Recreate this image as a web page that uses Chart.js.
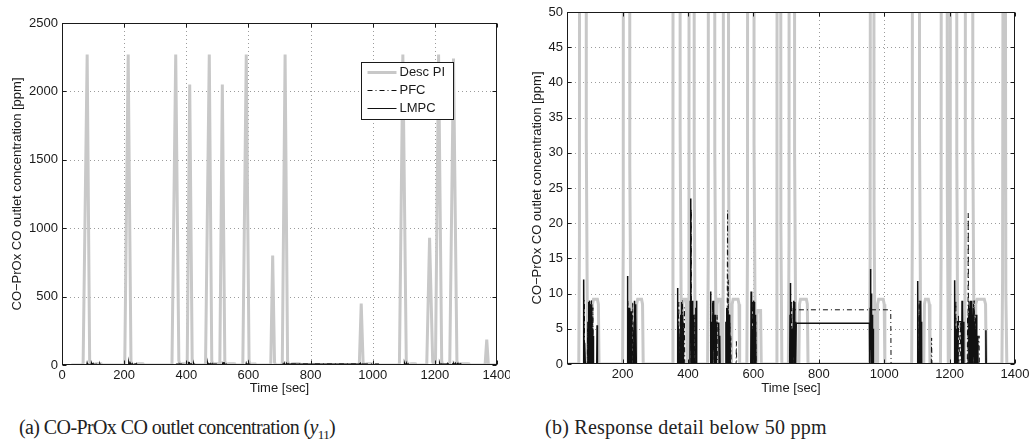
<!DOCTYPE html>
<html>
<head>
<meta charset="utf-8">
<script src="https://cdn.jsdelivr.net/npm/chart.js@4"></script>
<style>
  body { margin: 0; background: #fff; width: 1034px; height: 447px; position: relative; overflow: hidden; }
  #c1 { position: absolute; left: 0; top: 0; }
  #c2 { position: absolute; left: 510px; top: 0; }
  .cap { position: absolute; top: 416px; font-family: "Liberation Serif", serif; font-size: 20px; color: #222; white-space: nowrap; }
  .cap sub { font-size: 13px; }
</style>
</head>
<body>
<canvas id="c1" width="510" height="400"></canvas>
<canvas id="c2" width="524" height="400"></canvas>
<div class="cap" style="left:19px;letter-spacing:-0.6px">(a) CO-PrOx CO outlet concentration (<i>y</i><sub>11</sub>)</div>
<div class="cap" style="left:545px;letter-spacing:0.25px">(b) Response detail below 50 ppm</div>
<script>
// data: [time sec, CO ppm]
const descPI = [
  [30,0],[66,0],[68,17],[81,2270],[89,32],[93,0],[106,0],[108,8.5],[111,9.2],[123,9.2],[126,8.5],[128,0],
  [200,0],[202,17],[213,2270],[222,28],[226,0],[241,0],[243,8.5],[246,9.2],[258,9.2],[261,8.5],[263,0],
  [352,0],[354,18],[366,2270],[376,33],[380,0],[382,0],[384,8.5],[387,9.2],[395,9.2],[398,0],
  [401,0],[403,15],[411,2050],[419,30],[422,0],
  [460,0],[462,16],[474,2270],[482,30],[486,0],[489,8.5],[492,9.2],[500,9.2],[503,0],
  [506,0],[508,15],[516,2050],[524,30],[527,0],[533,0],[535,8.5],[538,9.2],[553,9.2],[556,8.5],[558,0],
  [580,0],[582,17],[593,2270],[602,31],[606,0],[609,0],[611,7],[614,7.6],[622,7.6],[624,0],
  [670,0],[672,15],[678,800],[684,20],[687,0],
  [707,0],[709,18],[718,2270],[726,30],[730,0],[739,0],[741,8.5],[744,9.2],[762,9.2],[765,8.5],[767,0],
  [955,0],[957,15],[963,450],[969,22],[972,0],[978,0],[980,8.5],[983,9.2],[997,9.2],[1000,8.5],[1002,0],
  [1084,0],[1086,18],[1097,2270],[1108,33],[1112,0],[1121,0],[1123,8.5],[1126,9.2],[1135,9.2],[1138,8.5],[1140,0],
  [1172,0],[1174,15],[1183,930],[1193,25],[1196,0],
  [1200,0],[1202,18],[1212,2270],[1222,30],[1225,0],
  [1246,0],[1248,18],[1260,2240],[1271,32],[1275,0],[1278,0],[1280,8.5],[1284,9.2],[1306,9.2],[1310,8.5],[1312,0],
  [1360,0],[1362,12],[1367,185],[1372,10],[1375,0],[1400,0]
];

const pfc = [
  [30,0],[82,0],[83,9],[84,0],[92,0],[93,5],[94,0],[97,0],[98,9],[99,3],[100,8.5],[101,0],[102,5],[103,7],[104,2],[105,9],[106,0],[107,6],[108,1],[109,8],[110,0],
  [215,0],[216,9],[217,0],[219,5],[220,0],[221,0],[222,8],[223,0],[226,4],[227,0],[230,0],[231,8.8],[232,0],[233,5],[234,0],
  [370,0],[371,7],[372,8.8],[373,0],[375,4],[376,0],[382,0],[383,9],[384,0],[386,6],[387,0],[389,8],[390,0],
  [409,0],[410,22],[411,0],[413,6],[414,0],[420,0],[421,7],[422,0],[425,5],[426,0],
  [474,0],[475,9],[476,0],[479,5],[480,0],[482,0],[483,7],[484,1],[485,6],[486,0],[489,7],[490,0],
  [519,0],[520,9],[521,21.8],[522,3],[523,12],[524,0],[526,7],[527,1],[528,6],[529,0],[531,4],[532,0],[547,0],[548,3.2],[549,0],
  [596,0],[597,9],[598,0],[600,4],[601,0],[606,0],[607,6],[608,0],
  [716,0],[717,9],[718,0],[720,5],[721,0],[722,0],[724,7.7],[1020,7.7],[1021,0],
  [1106,0],[1107,9],[1108,0],[1110,6],[1111,0],[1144,0],[1145,3.7],[1146,0],
  [1218,0],[1219,9],[1220,0],[1222,5],[1223,0],[1226,0],[1227,7],[1228,0],[1233,6],[1234,0],
  [1254,0],[1255,7],[1256,0],[1257,21.4],[1258,2],[1259,9],[1260,0],[1264,5],[1265,0],[1272,0],[1273,8.5],[1274,1],[1275,9],[1276,0],
  [1279,7],[1280,0],[1281,0],[1282,6],[1283,0],[1290,4],[1291,0],
  [1400,0]
];

const lmpc = [
  [30,0],[80,0],[81,12],[82,2],[83,0],[85,3],[86,0],[93,0],[94,6],[95,1],[96,8.8],[97,0],[98,7.5],[99,2],[100,9],[101,0],[102,6],[103,1],
  [104,8.5],[105,0],[106,7],[107,2],[108,5],[109,0],[110,4],[111,0],[121,0],[122,5.5],[123,0],
  [214,0],[215,12.5],[216,2],[217,0],[218,8],[219,0],[220,7],[221,1],[222,8],[223,0],[224,5],[225,0],[226,7.5],[227,1],[228,6.5],[229,0],
  [234,0],[235,6],[236,1],[237,9],[238,0],[239,8.5],[240,2],[241,7],[242,0],
  [367,0],[368,10.8],[369,1],[370,0],[372,5],[373,0],[376,0],[377,7],[378,1],[379,6],[380,0],[381,8.8],[382,2],[383,7],[384,0],[385,5],[386,0],
  [406,0],[407,9],[408,23.5],[409,3],[410,9],[411,0],[412,8],[413,1],[414,9],[415,0],[416,7],[417,2],[418,6],[419,0],[423,0],[424,8],[425,1],[426,9],[427,0],
  [468,0],[469,10.3],[470,1],[471,0],[473,6],[474,0],[476,0],[477,9],[478,2],[479,8],[480,0],[481,6],[482,1],[483,7],[484,0],
  [486,0],[487,5.8],[494,5.8],[495,0],[497,4],[498,0],
  [515,0],[516,6],[517,1],[518,8],[519,0],[520,7],[521,1],[522,8],[523,0],[524,6],[525,2],[526,7],[527,0],[528,5],[529,0],
  [592,0],[593,10.3],[594,1],[595,0],[597,5],[598,0],[600,0],[601,9],[602,2],[603,8.8],[604,0],[605,7],[606,1],[607,6],[608,0],
  [711,0],[712,7],[713,11.5],[714,1],[715,0],[717,5],[718,0],[721,0],[722,8],[723,1],[724,9],[725,2],[726,8.8],[727,0],[728,6],[729,0],
  [731,5.8],[955,5.8],[956,0],
  [957,8],[958,13.5],[959,2],[960,10],[961,0],[962,8],[963,1],[964,7],[965,0],[966,5],[967,0],
  [1101,0],[1102,7],[1103,11.8],[1104,1],[1105,0],[1107,0],[1108,7],[1109,1],[1110,9],[1111,2],[1112,8.5],[1113,0],[1114,6],[1115,0],
  [1214,0],[1215,8],[1216,11.9],[1217,1],[1218,0],[1220,5],[1221,0],[1223,0],[1224,6],[1236,6],[1237,0],[1238,9],[1239,1],[1240,8],[1241,0],[1243,6],[1244,0],
  [1258,0],[1259,7],[1260,1],[1261,8],[1262,0],[1263,9],[1264,1],[1265,8],[1266,0],[1267,6],[1268,9],[1269,2],[1270,7],[1271,0],
  [1273,8],[1274,1],[1275,6],[1276,0],[1278,5],[1279,0],[1282,7],[1283,0],[1286,4],[1287,0],[1310,0],[1311,4.8],[1312,0],
  [1400,0]
];

const xTicksA = [0, 200, 400, 600, 800, 1000, 1200, 1400];
const yTicksA = [0, 500, 1000, 1500, 2000, 2500];
const xTicksB = [200, 400, 600, 800, 1000, 1200, 1400];
const yTicksB = [0, 5, 10, 15, 20, 25, 30, 35, 40, 45, 50];

const FONT = 'Liberation Sans';
const toPts = arr => arr.map(p => ({x: p[0], y: p[1]}));

// dotted grid, box and inward ticks like matlab
const matlabFrame = {
  id: 'matlabFrame',
  beforeDatasetsDraw(chart) {
    const {ctx, chartArea: a, scales: {x, y}} = chart;
    ctx.save();
    ctx.strokeStyle = '#9c9c9c';
    ctx.lineWidth = 1;
    ctx.setLineDash([1, 3]);
    x.ticks.forEach(t => {
      const px = Math.round(x.getPixelForValue(t.value)) + 0.5;
      if (px <= a.left + 1 || px >= a.right - 1) return;
      ctx.beginPath(); ctx.moveTo(px, a.top); ctx.lineTo(px, a.bottom); ctx.stroke();
    });
    y.ticks.forEach(t => {
      const py = Math.round(y.getPixelForValue(t.value)) + 0.5;
      if (py <= a.top + 1 || py >= a.bottom - 1) return;
      ctx.beginPath(); ctx.moveTo(a.left, py); ctx.lineTo(a.right, py); ctx.stroke();
    });
    ctx.restore();
  },
  afterDraw(chart) {
    const {ctx, chartArea: a, scales: {x, y}} = chart;
    const L = Math.round(a.left) + 0.5, R = Math.round(a.right) - 0.5;
    const T = Math.round(a.top) + 0.5, B = Math.round(a.bottom) - 0.5;
    ctx.save();
    ctx.strokeStyle = '#1a1a1a';
    ctx.lineWidth = 1;
    ctx.strokeRect(L, T, R - L, B - T);
    ctx.beginPath();
    x.ticks.forEach(t => {
      const px = Math.round(x.getPixelForValue(t.value)) + 0.5;
      ctx.moveTo(px, B); ctx.lineTo(px, B - 4);
      ctx.moveTo(px, T); ctx.lineTo(px, T + 4);
    });
    y.ticks.forEach(t => {
      const py = Math.round(y.getPixelForValue(t.value)) + 0.5;
      ctx.moveTo(L, py); ctx.lineTo(L + 4, py);
      ctx.moveTo(R, py); ctx.lineTo(R - 4, py);
    });
    ctx.stroke();
    ctx.restore();
  }
};

// legend inside the left plot
const legendBox = {
  id: 'legendBox',
  afterDraw(chart) {
    const {ctx, chartArea: a} = chart;
    const bx = Math.round(a.right - 136) + 0.5, by = Math.round(a.top + 39) + 0.5;
    const bw = 92, bh = 57;
    ctx.save();
    ctx.fillStyle = '#fff';
    ctx.fillRect(bx, by, bw, bh);
    ctx.strokeStyle = '#1a1a1a';
    ctx.lineWidth = 1;
    ctx.strokeRect(bx, by, bw, bh);
    const rows = [
      {label: 'Desc PI', color: '#c8c8c8', width: 3, dash: []},
      {label: 'PFC', color: '#111', width: 1, dash: [5, 3, 1, 3]},
      {label: 'LMPC', color: '#111', width: 1, dash: []}
    ];
    ctx.font = '13px "' + FONT + '"';
    ctx.textBaseline = 'middle';
    rows.forEach((r, i) => {
      const yy = by + 10 + i * 18;
      ctx.strokeStyle = r.color;
      ctx.lineWidth = r.width;
      ctx.setLineDash(r.dash);
      ctx.beginPath(); ctx.moveTo(bx + 6, yy); ctx.lineTo(bx + 35, yy); ctx.stroke();
      ctx.setLineDash([]);
      ctx.fillStyle = '#1a1a1a';
      ctx.fillText(r.label, bx + 38, yy);
    });
    ctx.restore();
  }
};

function makeConfig(o) {
  return {
    type: 'line',
    data: {
      datasets: [
        {label: 'LMPC', data: toPts(lmpc), borderColor: '#111', borderWidth: 1.5},
        {label: 'PFC', data: toPts(pfc), borderColor: '#111', borderWidth: 1, borderDash: [5, 3, 1, 3]},
        {label: 'Desc PI', data: toPts(descPI), borderColor: '#c8c8c8', borderWidth: 3}
      ]
    },
    options: {
      responsive: false,
      animation: false,
      events: [],
      elements: { point: { radius: 0 }, line: { tension: 0, fill: false } },
      layout: { padding: { top: o.top, right: o.right, left: 0, bottom: 0 } },
      plugins: { legend: { display: false }, tooltip: { enabled: false } },
      scales: {
        x: {
          type: 'linear',
          min: o.xmin, max: 1400,
          grid: { display: false, drawTicks: false },
          border: { display: false },
          afterBuildTicks: s => { s.ticks = o.xTicks.map(v => ({value: v})); },
          afterFit: s => { s.height = o.xh; s.paddingLeft = 0; s.paddingRight = 0; },
          ticks: { font: { family: FONT, size: 13 }, color: '#1a1a1a', padding: 3, maxRotation: 0, autoSkip: false, callback: v => String(v) },
          title: { display: true, text: 'Time [sec]', font: { family: FONT, size: 13 }, color: '#1a1a1a', padding: { top: 0, bottom: 4 } }
        },
        y: {
          type: 'linear',
          min: 0, max: o.ymax,
          grid: { display: false, drawTicks: false },
          border: { display: false },
          afterBuildTicks: s => { s.ticks = o.yTicks.map(v => ({value: v})); },
          afterFit: s => { s.width = o.yw; s.paddingTop = 0; s.paddingBottom = 0; },
          ticks: { font: { family: FONT, size: 13 }, color: '#1a1a1a', padding: 4, autoSkip: false, callback: v => String(v) },
          title: { display: true, text: 'CO\u2212PrOx CO outlet concentration [ppm]', font: { family: FONT, size: 13 }, color: '#1a1a1a', padding: { top: o.ytp, bottom: 0 } }
        }
      }
    },
    plugins: o.legend ? [matlabFrame, legendBox] : [matlabFrame]
  };
}

const chartA = new Chart(document.getElementById('c1'), makeConfig({
  top: 23, right: 13, xmin: 0, ymax: 2500, xTicks: xTicksA, yTicks: yTicksA, xh: 35, yw: 62, ytp: 10, legend: true
}));

const chartB = new Chart(document.getElementById('c2'), makeConfig({
  top: 12, right: 19, xmin: 30, ymax: 50, xTicks: xTicksB, yTicks: yTicksB, xh: 36, yw: 57, ytp: 20, legend: false
}));
</script>
</body>
</html>
